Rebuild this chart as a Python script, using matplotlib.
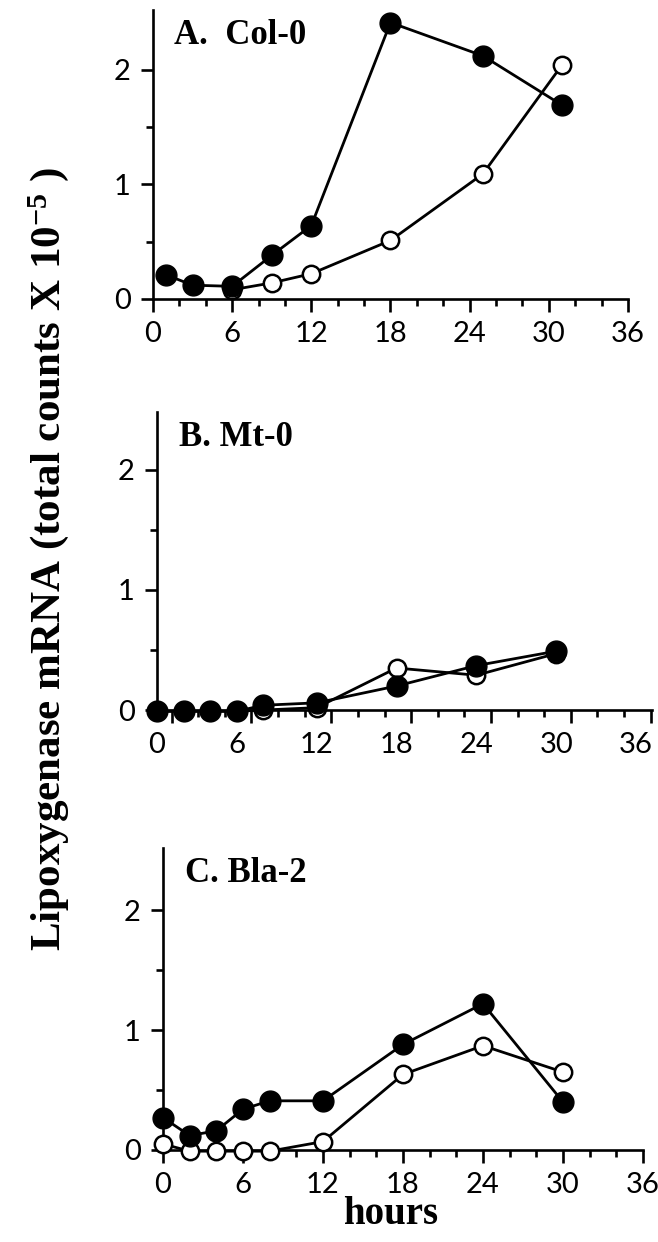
import numpy as np
import matplotlib
matplotlib.use("Agg")
import matplotlib.pyplot as plt
from matplotlib.ticker import FixedLocator

plt.rcParams['font.family'] = ['Lato', 'DejaVu Sans']
plt.rcParams['mathtext.fontset'] = 'custom'
plt.rcParams['mathtext.rm'] = 'Liberation Serif:bold'
plt.rcParams['mathtext.it'] = 'Liberation Serif:bold'
plt.rcParams['mathtext.bf'] = 'Liberation Serif:bold'

# panel A: Col-0
a_hours_filled = [1, 3, 6, 9, 12, 18, 25, 31]
a_filled = [0.21, 0.12, 0.11, 0.38, 0.64, 2.41, 2.12, 1.69]
a_hours_open = [6, 9, 12, 18, 25, 31]
a_open = [0.08, 0.14, 0.22, 0.51, 1.09, 2.04]

# panel B: Mt-0
b_hours = [0, 2, 4, 6, 8, 12, 18, 24, 30]
b_filled = [-0.01, -0.01, -0.01, -0.01, 0.04, 0.06, 0.20, 0.37, 0.49]
b_open = [-0.01, -0.01, -0.01, -0.01, 0.0, 0.02, 0.35, 0.29, 0.47]

# panel C: Bla-2
c_hours = [0, 2, 4, 6, 8, 12, 18, 24, 30]
c_filled = [0.27, 0.12, 0.16, 0.34, 0.41, 0.41, 0.88, 1.22, 0.40]
c_open = [0.05, -0.01, -0.01, -0.01, -0.01, 0.07, 0.63, 0.87, 0.65]

titles = ['A.  Col-0', 'B. Mt-0', 'C. Bla-2']
xtick_labels = ['0', '6', '12', '18', '24', '30', '36']

fig = plt.figure(figsize=(6.58, 12.42), dpi=100)

# [left, bottom, width, height], xlim, ylim
boxes = [
    ([0.2325, 0.7593, 0.7219, 0.2327], 36.0, 2.52),
    ([0.2386, 0.4283, 0.7523, 0.2399], 37.2, 2.48),
    ([0.2477, 0.0741, 0.7295, 0.2432], 36.0, 2.52),
]
data = [
    (a_hours_filled, a_filled, a_hours_open, a_open),
    (b_hours, b_filled, b_hours, b_open),
    (c_hours, c_filled, c_hours, c_open),
]

lw = 2.0
tick_fs = 21
for i, ((rect, xmax, ymax), (hf, vf, ho, vo)) in enumerate(zip(boxes, data)):
    ax = fig.add_axes(rect)
    ax.plot(hf, vf, '-', color='black', lw=lw, zorder=3, clip_on=False)
    ax.plot(ho, vo, '-', color='black', lw=lw, zorder=3, clip_on=False)
    ax.plot(ho, vo, 'o', ms=12.5, mfc='white', mec='black', mew=1.8, zorder=4, clip_on=False)
    ax.plot(hf, vf, 'o', ms=15, color='black', zorder=5, clip_on=False)

    ax.set_xlim(0, xmax)
    ax.set_ylim(0, ymax)
    for s in ['top', 'right']:
        ax.spines[s].set_visible(False)
    for s in ['left', 'bottom']:
        ax.spines[s].set_linewidth(1.9)

    ax.yaxis.set_major_locator(FixedLocator([0, 1, 2]))
    ax.yaxis.set_minor_locator(FixedLocator([0.5, 1.5]))
    ax.set_yticklabels(['0', '1', '2'])

    if i == 1:
        # in the original scan the tick marks of panel B sit ~1 h right of their labels
        shift = 1.1
        ax.xaxis.set_major_locator(FixedLocator(np.arange(0, 37, 6) + shift))
        ax.xaxis.set_minor_locator(FixedLocator(np.arange(0, 37, 2) + shift))
        ax.tick_params(axis='x', which='both', labelbottom=False)
        for h, lbl in zip(range(0, 37, 6), xtick_labels):
            ax.annotate(lbl, xy=(h, 0), xycoords=('data', 'axes fraction'),
                        xytext=(0, -16), textcoords='offset points',
                        ha='center', va='top', fontsize=tick_fs)
    else:
        ax.xaxis.set_major_locator(FixedLocator(np.arange(0, 37, 6)))
        ax.xaxis.set_minor_locator(FixedLocator(np.arange(0, 37, 2)))
        ax.set_xticklabels(xtick_labels)

    ax.tick_params(which='major', length=9, width=1.9, direction='out', labelsize=tick_fs, pad=7)
    ax.tick_params(which='minor', length=5, width=1.9, direction='out')

    ax.text(0.045, 0.97, titles[i], transform=ax.transAxes, ha='left', va='top',
            fontsize=25, fontweight='bold', family='Liberation Serif')

fig.text(0.073, 0.55, 'Lipoxygenase mRNA (total counts X 10$^{-5}$ )', rotation=90,
         ha='center', va='center', fontsize=31, fontweight='bold', family='Liberation Serif')
fig.text(0.593, 0.022, 'hours', ha='center', va='center', fontsize=28,
         fontweight='bold', family='Liberation Serif')

fig.savefig('out.png', dpi=100)
